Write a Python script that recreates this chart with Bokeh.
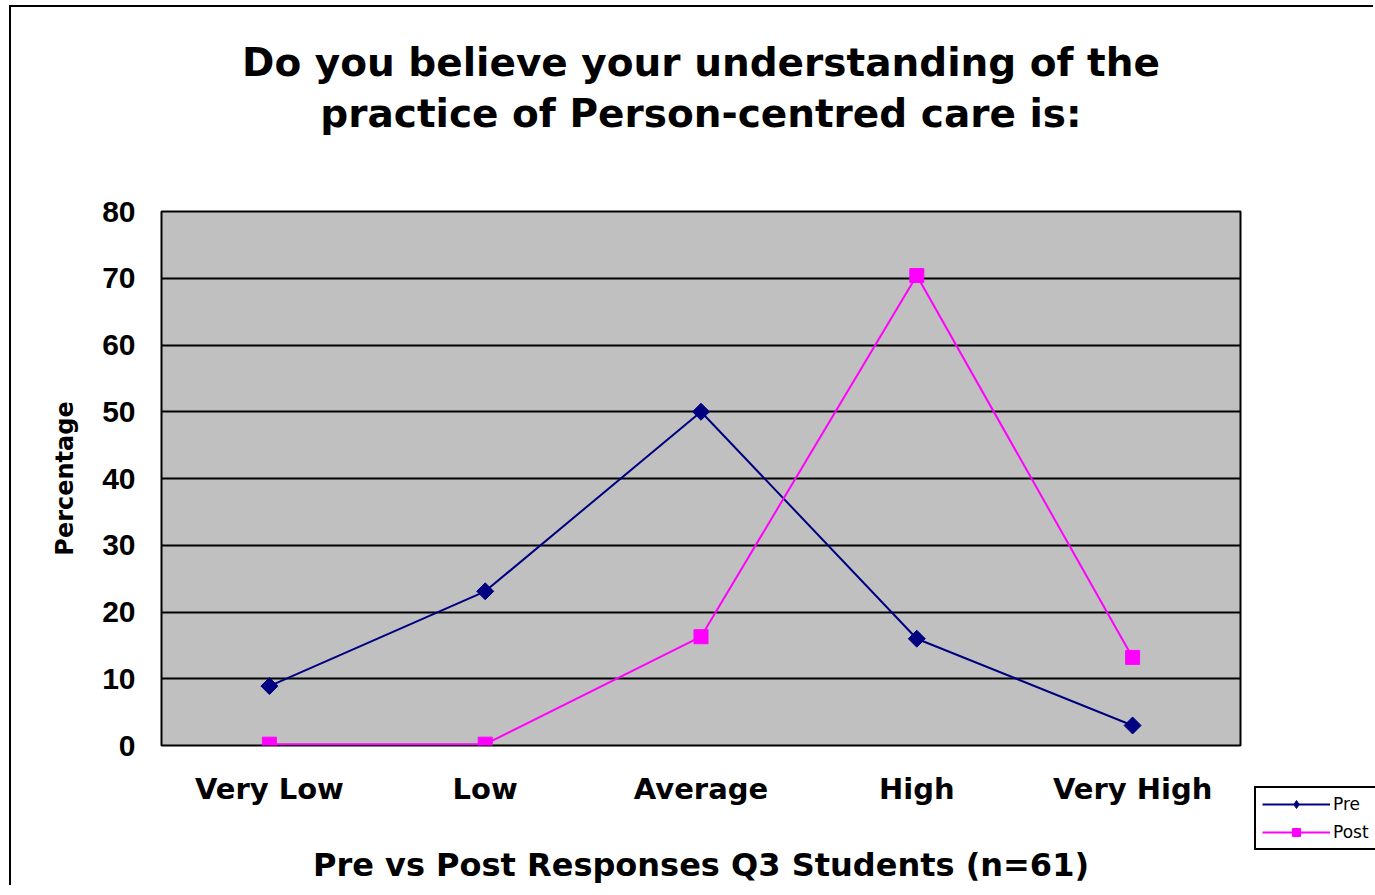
import math
from bokeh.plotting import figure
from bokeh.models import FactorRange, Range1d, Legend, LegendItem, Title, ColumnDataSource
from bokeh.layouts import column
from bokeh.embed import file_html
from bokeh.resources import INLINE

categories = ["Very Low", "Low", "Average", "High", "Very High"]
pre_values = [8.9, 23.1, 50.0, 16.0, 3.0]
post_values = [0.2, 0.2, 16.3, 70.4, 13.2]
y_ticks = [0, 10, 20, 30, 40, 50, 60, 70, 80]
title_line1 = "Do you believe your understanding of the"
title_line2 = "practice of Person-centred care is:"
x_title = "Pre vs Post Responses Q3 Students (n=61)"
y_title = "Percentage"
series_names = ["Pre", "Post"]

WIDE = "DejaVu Sans"
ARIAL = "Liberation Sans"
PRE_C = "#000080"
POST_C = "#FF00FF"

p = figure(width=1364, height=880, output_backend="svg", toolbar_location=None,
           x_range=FactorRange(*categories, range_padding=0), y_range=Range1d(0, 80),
           min_border_left=150, min_border_right=135, min_border_top=204, min_border_bottom=142)
p.styles = {"border-left": "2px solid black", "border-top": "2px solid black"}
p.title = None

p.background_fill_color = "#C0C0C0"
p.border_fill_color = "white"
p.outline_line_color = "black"
p.outline_line_width = 2

# spacer between plot area and the two title lines
p.add_layout(Title(text=" ", text_font_size="1px", standoff=71), "above")
p.add_layout(Title(text=title_line2, align="center",
                   text_font=WIDE, text_font_size="39px", text_font_style="bold",
                   text_color="black", standoff=4), "above")
p.add_layout(Title(text=title_line1, align="center",
                   text_font=WIDE, text_font_size="39px", text_font_style="bold",
                   text_color="black", standoff=4), "above")

# grid
p.xgrid.grid_line_color = None
p.ygrid.grid_line_color = "black"
p.ygrid.grid_line_width = 2
p.ygrid.ticker = y_ticks

# axes
p.yaxis.ticker = y_ticks
p.yaxis.axis_line_color = None
p.yaxis.major_tick_line_color = None
p.yaxis.minor_tick_line_color = None
p.yaxis.major_tick_out = 0
p.yaxis.major_label_text_font = ARIAL
p.yaxis.major_label_text_font_size = "30px"
p.yaxis.major_label_text_font_style = "bold"
p.yaxis.major_label_text_color = "black"
p.yaxis.major_label_standoff = 26
p.yaxis.axis_label = y_title
p.yaxis.axis_label_text_font = WIDE
p.yaxis.axis_label_text_font_size = "24px"
p.yaxis.axis_label_text_font_style = "bold"
p.yaxis.axis_label_text_color = "black"
p.yaxis.axis_label_standoff = 20

p.xaxis.axis_line_color = None
p.xaxis.major_tick_line_color = None
p.xaxis.minor_tick_line_color = None
p.xaxis.major_tick_out = 0
p.xaxis.major_label_text_font = WIDE
p.xaxis.major_label_text_font_size = "29px"
p.xaxis.major_label_text_font_style = "bold"
p.xaxis.major_label_text_color = "black"
p.xaxis.major_label_standoff = 26
p.xaxis.axis_label = x_title
p.xaxis.axis_label_text_font = WIDE
p.xaxis.axis_label_text_font_size = "32px"
p.xaxis.axis_label_text_font_style = "bold"
p.xaxis.axis_label_text_color = "black"
p.xaxis.axis_label_standoff = 37

src = ColumnDataSource(dict(x=categories, pre=pre_values, post=post_values))

p.line("x", "pre", source=src, line_color=PRE_C, line_width=2)
p.scatter("x", "pre", source=src, marker="square", angle=math.pi / 4, size=12,
          fill_color=PRE_C, line_color=PRE_C)
p.line("x", "post", source=src, line_color=POST_C, line_width=2)
p.scatter("x", "post", source=src, marker="square", size=14, fill_color=POST_C, line_color=POST_C)

# legend, drawn in its own small canvas placed below-right of the plot area
lf = figure(width=121, height=66, output_backend="svg", toolbar_location=None,
            x_range=FactorRange(*categories), y_range=Range1d(1000, 1001),
            min_border=0)
lf.title = None
lf.axis.visible = False
lf.grid.visible = False
lf.outline_line_color = None
lf.background_fill_color = "white"
lf.border_fill_color = "white"
l1 = lf.line("x", "pre", source=src, line_color=PRE_C, line_width=2)
m1 = lf.scatter("x", "pre", source=src, marker="diamond", size=14,
                fill_color=PRE_C, line_color=PRE_C)
l2 = lf.line("x", "post", source=src, line_color=POST_C, line_width=2)
m2 = lf.scatter("x", "post", source=src, marker="square", size=14, fill_color=POST_C, line_color=POST_C)
legend = Legend(items=[LegendItem(label=series_names[0], renderers=[l1, m1]),
                       LegendItem(label=series_names[1], renderers=[l2, m2])],
                location="top_left", glyph_width=68, glyph_height=20,
                label_text_font=WIDE, label_text_font_size="17px", label_text_color="black",
                border_line_color="black", border_line_width=2, border_line_alpha=1,
                background_fill_color="white", background_fill_alpha=1,
                padding=6, spacing=8, margin=1, label_standoff=3)
lf.add_layout(legend, "center")
lf.styles = {"position": "absolute", "left": "1253px", "top": "785px"}

layout = column(p, lf, styles={"padding-left": "9px", "padding-top": "5px", "position": "relative"})

open("out.html", "w").write(file_html(layout, INLINE))
